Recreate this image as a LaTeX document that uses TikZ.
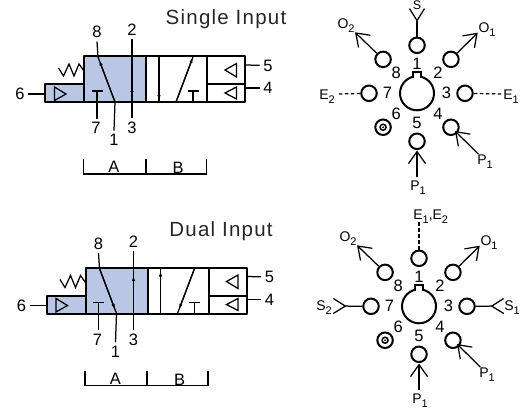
\documentclass[tikz,border=0pt]{standalone}
\usepackage{fontspec}
\setmainfont{Liberation Sans}
\usetikzlibrary{calc,arrows.meta}
\definecolor{ValveBlue}{HTML}{B9C7E5}
\newcommand{\SubLabel}[2]{#1\raisebox{-4pt}{\fontsize{11}{11}\selectfont #2}}
\tikzset{
	x=1pt,y=-1pt,
	Body/.style={draw,line width=2pt,line join=round},
	Thin/.style={line width=1.25pt},
	Num/.style={font=\fontsize{16.5}{16.5}\selectfont,inner sep=3.5pt},
	Sig/.style={font=\fontsize{14}{14}\selectfont,inner sep=0pt},
	Title/.style={font=\fontsize{20.5}{20.5}\selectfont,text=black!85,inner sep=0pt},
	Port/.style={circle,draw,line width=2pt,minimum size=15.5pt,inner sep=0pt},
	Flow/.style={-{Latex[length=5pt,width=3.5pt]},Thin},
	Out/.style={-{Straight Barb[length=12pt,width=17pt]},Thin},
	Fork/.style={Thin,{Straight Barb[reversed,length=12pt,width=15pt]}-},
	Drain/.style={Thin,dash pattern=on 3.5pt off 2.5pt}
}
% valve symbol, fixed geometry, only the position changes
\newcommand{\MakeValve}[3]{%
	\begin{scope}[name prefix = #1@,shift={(#2)}]%
		\fill[ValveBlue] (84,56) rectangle (146,102) (45,84) rectangle (84,102);%
		\draw[Body] (84,84) -- (45,84) -- (45,102) -- (245,102) -- (245,56) -- (84,56) -- (84,102);%
		\draw[Body] (146,56) -- (146,102) (207,56) -- (207,102) (207,84) -- (245,84);%
		\draw[Thin] (54.5,87) -- (66,94) -- (54.5,100.5) -- cycle;%
		\draw[Thin] (225,70) -- (236.5,63.5) -- (236.5,77) -- cycle;%
		\draw[Thin] (225,93) -- (236.5,87) -- (236.5,99) -- cycle;%
		\draw[Thin] (58.5,68) -- (63.5,76) -- (69,64) -- (74,76) -- (79,64) -- (84,71);%
		\node[Num] (n6) at (20,94) {6};%
		\node[Num] (n5) at (268,65.5) {5};%
		\node[Num] (n4) at (268,88) {4};%
		\node[Num] (n8) at (97,32) {8};%
		\node[Num] (n2) at (132,30) {2};%
		\node[Num] (n7) at (96,128) {7};%
		\node[Num] (n3) at (132,128) {3};%
		\node[Num] (n1) at (114,140) {1};%
		\coordinate (j6) at (45,94);%
		\coordinate (j5) at (245,65);%
		\coordinate (j4) at (245,88);%
		\coordinate (j8) at (98,57);%
		\coordinate (j1) at (115,102);%
		\coordinate (t7) at (97,91);%
		\coordinate (v1) at (159,56);%
		\coordinate (v2) at (159,102);%
		\coordinate (d1) at (176,102);%
		\coordinate (d2) at (193,57);%
		\coordinate (t2) at (193,91);%
		\coordinate (t3) at (193,102);%
		\draw[Thin] (n6) -- (j6);%
		\draw[Thin] (n5) -- (j5);%
		\draw[Thin] (n4) -- (j4);%
		\draw[Thin] (n8.south) -- (j8) -- (j1) -- (n1.north);%
		\draw[Thin] (n2) -- (n3);%
		\draw[Thin] (n7.north -| t7) -- (t7);%
		\draw[Thin] ($(t7)+(-5.5,0)$) -- ($(t7)+(5.5,0)$);%
		\draw[Thin] (v1) -- (v2);%
		\draw[Thin] (d1) -- (d2);%
		\draw[Thin] (t2) -- (t3);%
		\draw[Thin] ($(t2)+(-5.5,0)$) -- ($(t2)+(5.5,0)$);%
		\node[Num] (a) at (114,167) {A};%
		\node[Num] (b) at (178,168) {B};%
		\draw[Thin] (83.5,159) -- (83.5,174) -- (206.5,174) -- (206.5,159);%
		\draw[line width=2pt] (145.5,159) -- (145.5,174);%
		#3%
	\end{scope}%
}
% round base with its eight numbered pins
\newcommand{\MakeDial}[3]{%
	\begin{scope}[name prefix = #1@,shift={(#2)}]%
		\node[Port,minimum size=34pt] (hub) at (417,93.3) {};%
		\draw[line width=2pt,fill=white] ($(hub)+(-3.7,-15.5)$) -- ($(hub)+(-3.7,-21.5)$) -- ($(hub)+(3.7,-21.5)$) -- ($(hub)+(3.7,-15.5)$);%
		\foreach \n/\a in {1/-90,2/-45,3/0,4/45,5/90,7/180,8/-135}{%
			\node[Port] (p\n) at ($(hub)+(\a:48)$) {};%
		}%
		\node[Port] (p6) at ($(hub)+(135:48)$) {};%
		\node[circle,draw,line width=1.5pt,minimum size=6pt,inner sep=0pt] (p6in) at (p6) {};%
		\fill (p6) circle (1pt);%
		\foreach \n/\a in {1/-90,2/-45,3/0,4/45,5/90,6/135,7/180,8/-135}{%
			\node[Num,inner sep=0pt] (n\n) at ($(hub)+(\a:29.5)$) {\n};%
		}%
		\node[Sig] (o2) at (346,26) {\SubLabel{O}{2}};%
		\node[Sig] (o1) at (487,30) {\SubLabel{O}{1}};%
		\node[Sig] (q5) at (418,188) {\SubLabel{P}{1}};%
		\node[Sig] (q4) at (485,162) {\SubLabel{P}{1}};%
		\coordinate (to2) at (355,32.3);%
		\coordinate (to1) at (477.7,32.7);%
		\coordinate (tp5) at (417,150.5);%
		\coordinate (tp4) at (455,131);%
		\coordinate (fp5) at (417,177);%
		\coordinate (fp4) at (478.3,154);%
		\draw[Out] (p8) -- (to2);%
		\draw[Out] (p2) -- (to1);%
		\draw[Out] (fp5) -- (tp5);%
		\draw[Out] (fp4) -- (tp4);%
		#3%
	\end{scope}%
}

\begin{document}
\begin{tikzpicture}
	\useasboundingbox (0,0) rectangle (526,409);

	\node[Title] (TitleSingle) at (226,19) {\addfontfeature{LetterSpace=6}Single Input};
	\node[Title] (TitleDual) at (221,231.5) {\addfontfeature{LetterSpace=6}Dual Input};

	\MakeValve{Single}{0,0}{% Single input flow tips
		\draw[Flow] (j1) -- ($(j1)!.92!(j8)$);
		\draw[Flow] (132,80) -- (132,96);
		\draw[Flow] (159,85) -- (159,100);
		\draw[Flow] (d1) -- ($(d1)!.98!(d2)$);
	}
	\MakeValve{Dual}{1.5,211.5}{% Dual input flow tips
		\draw[Flow] (j8) -- ($(j8)!.9!(j1)$);
		\draw[Flow] (132,80) -- (132,64.5);
		\draw[Flow] (159,75) -- (159,60);
		\draw[Flow] (d2) -- ($(d2)!.9!(d1)$);
	}

	\MakeDial{One}{0,0}{%
		\node[Sig,font=\fontsize{12.5}{12.5}\selectfont] (s) at (417,5) {S};
		\node[Sig] (e2) at (327,97) {\SubLabel{E}{2}};
		\node[Sig] (e1) at (511,97) {\SubLabel{E}{1}};
		\coordinate (fs) at (417,8);
		\coordinate (ge2) at (337,94);
		\coordinate (ge1) at (502,94);
		\draw[Fork] (fs) -- (p1);
		\draw[Drain] (p7) -- (ge2);
		\draw[Drain] (p3) -- (ge1);
	}
	\MakeDial{Two}{2,213}{%
		\node[Sig] (e) at (428.7,3.7) {\SubLabel{E}{1},\SubLabel{E}{2}};
		\node[Sig] (s2) at (322,95) {\SubLabel{S}{2}};
		\node[Sig] (s1) at (510,95) {\SubLabel{S}{1}};
		\coordinate (ge) at (417,9);
		\coordinate (fs2) at (330.7,93);
		\coordinate (fs1) at (502.3,93);
		\draw[Drain] (p1) -- (ge);
		\draw[Fork] (fs2) -- (p7);
		\draw[Fork] (fs1) -- (p3);
	}
\end{tikzpicture}
\end{document}
